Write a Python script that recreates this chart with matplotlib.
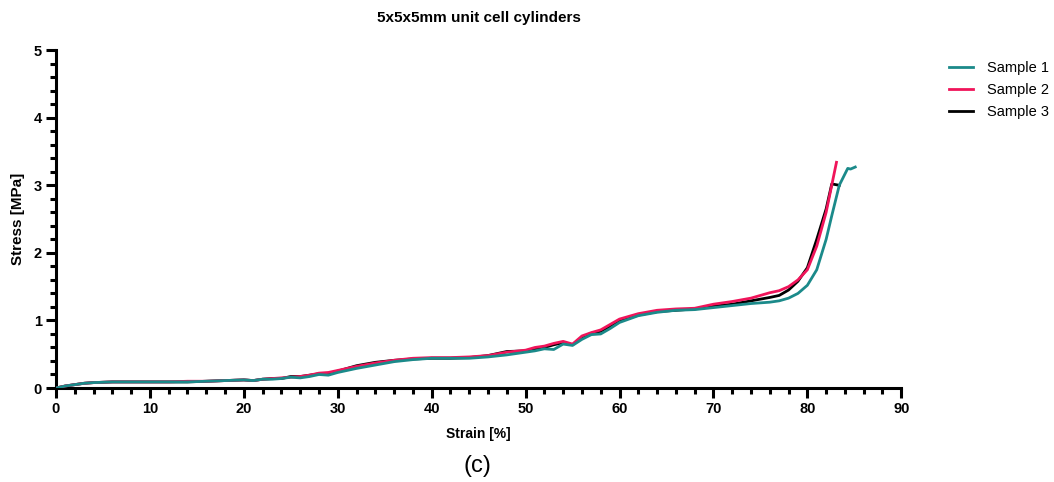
import matplotlib.pyplot as plt
from matplotlib.ticker import MultipleLocator

plt.rcParams['font.family'] = ['Liberation Sans', 'DejaVu Sans']

# Strain [%] / Stress [MPa]
strain_1 = [0, 1, 2, 3, 4, 6, 8, 10, 12, 14, 16, 18, 20, 21, 22, 23, 24, 25, 26, 27, 28, 29, 30, 32, 34, 36, 38, 40,
            42, 44, 46, 48, 50, 51, 52, 53, 54, 55, 56, 57, 58, 59, 60, 62, 64, 66, 68, 70, 72, 74, 76, 77, 78,
            79, 80, 81, 82, 82.6, 83.4, 84.3, 84.6, 85.1]
stress_1 = [0, 0.03, 0.05, 0.07, 0.08, 0.09, 0.09, 0.09, 0.09, 0.09, 0.1, 0.11, 0.12, 0.11, 0.13, 0.13, 0.14, 0.16,
            0.15, 0.17, 0.2, 0.19, 0.23, 0.29, 0.34, 0.39, 0.42, 0.44, 0.44, 0.44, 0.46, 0.49, 0.53, 0.55, 0.58,
            0.57, 0.65, 0.63, 0.72, 0.79, 0.8, 0.88, 0.97, 1.07, 1.12, 1.15, 1.16, 1.19, 1.22, 1.25, 1.27, 1.29,
            1.33, 1.4, 1.52, 1.75, 2.2, 2.55, 3.0, 3.25, 3.24, 3.27]

strain_2 = [0, 1, 2, 3, 4, 6, 8, 10, 12, 14, 16, 18, 20, 21, 22, 23, 24, 25, 26, 27, 28, 29, 30, 32, 34, 36, 38, 40,
            42, 44, 46, 48, 50, 51, 52, 53, 54, 55, 56, 57, 58, 59, 60, 62, 64, 66, 68, 70, 72, 74, 76, 77, 78,
            79, 80, 81, 82, 83.1]
stress_2 = [0, 0.03, 0.05, 0.07, 0.08, 0.09, 0.09, 0.09, 0.09, 0.1, 0.1, 0.11, 0.12, 0.11, 0.13, 0.14, 0.15, 0.16,
            0.17, 0.19, 0.22, 0.23, 0.26, 0.32, 0.37, 0.41, 0.44, 0.45, 0.45, 0.46, 0.48, 0.53, 0.56, 0.6, 0.62,
            0.66, 0.69, 0.65, 0.77, 0.82, 0.86, 0.94, 1.02, 1.1, 1.15, 1.17, 1.18, 1.24, 1.28, 1.33, 1.41, 1.44,
            1.5, 1.6, 1.75, 2.1, 2.6, 3.34]

strain_3 = [0, 1, 2, 3, 4, 6, 8, 10, 12, 14, 16, 18, 20, 21, 22, 23, 24, 25, 26, 27, 28, 29, 30, 32, 34, 36, 38, 40,
            42, 44, 46, 48, 50, 51, 52, 53, 54, 55, 56, 57, 58, 59, 60, 62, 64, 66, 68, 70, 72, 74, 76, 77, 78,
            79, 80, 81, 82, 82.6, 83.4]
stress_3 = [0, 0.03, 0.05, 0.07, 0.08, 0.09, 0.09, 0.09, 0.09, 0.09, 0.1, 0.11, 0.12, 0.11, 0.13, 0.14, 0.14, 0.17,
            0.17, 0.19, 0.21, 0.21, 0.25, 0.33, 0.38, 0.41, 0.43, 0.44, 0.44, 0.45, 0.48, 0.54, 0.55, 0.58, 0.6,
            0.64, 0.67, 0.64, 0.75, 0.81, 0.84, 0.91, 0.99, 1.08, 1.13, 1.15, 1.17, 1.21, 1.24, 1.29, 1.34, 1.37,
            1.45, 1.58, 1.78, 2.2, 2.65, 3.02, 3.0]

fig = plt.figure(figsize=(10.54, 4.82), dpi=100)
ax = fig.add_axes([0.0531, 0.195, 0.802, 0.701])

ax.plot(strain_1, stress_1, color='#1b8a8a', lw=2, label='Sample 1', zorder=4)
ax.plot(strain_2, stress_2, color='#f0145a', lw=2, label='Sample 2', zorder=3)
ax.plot(strain_3, stress_3, color='black', lw=2, label='Sample 3', zorder=2)

ax.set_xlim(0, 90)
ax.set_ylim(0, 5)
ax.xaxis.set_major_locator(MultipleLocator(10))
ax.xaxis.set_minor_locator(MultipleLocator(2))
ax.yaxis.set_major_locator(MultipleLocator(1))
ax.yaxis.set_minor_locator(MultipleLocator(0.2))

for s in ['top', 'right']:
    ax.spines[s].set_visible(False)
for s in ['left', 'bottom']:
    ax.spines[s].set_linewidth(2.2)
ax.tick_params(which='major', length=7, width=2.2, labelsize=10.5, pad=3)
ax.tick_params(which='minor', length=4, width=2.2)
for lbl in ax.get_xticklabels() + ax.get_yticklabels():
    lbl.set_fontweight('bold')

ax.set_xlabel('Strain [%]', fontsize=10, fontweight='bold', labelpad=8)
ax.set_ylabel('Stress [MPa]', fontsize=11, fontweight='bold', labelpad=6)
ax.set_title('5x5x5mm unit cell cylinders', fontsize=11, fontweight='bold', pad=20)

ax.legend(loc='upper left', bbox_to_anchor=(1.05, 0.985), frameon=False, fontsize=10.5,
          handlelength=1.6, handletextpad=1.0, labelspacing=0.55, borderaxespad=0)

fig.text(0.453, 0.02, '(c)', fontsize=17, ha='center')

fig.savefig('out.png', dpi=100)
